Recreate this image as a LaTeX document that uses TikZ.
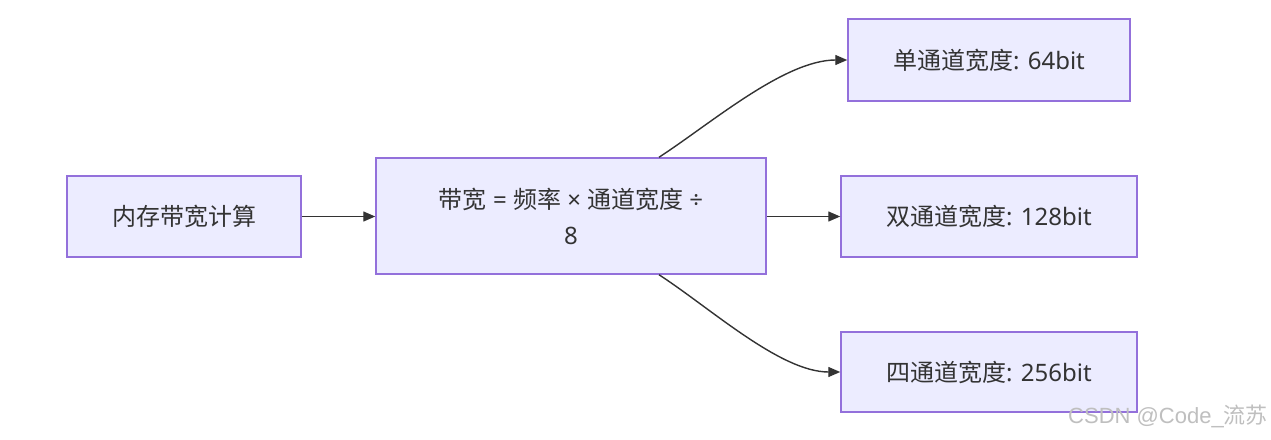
\documentclass[tikz,border=0pt]{standalone}
\usepackage{fontspec}
\setmainfont{Noto Sans CJK SC}
\newfontfamily\lat{Noto Sans}
\newfontfamily\arl{Liberation Sans}
\usetikzlibrary{arrows.meta}
\definecolor{nodefill}{HTML}{ECECFF}
\definecolor{nodeborder}{HTML}{9370DB}
\definecolor{edgecol}{HTML}{333333}
\definecolor{txtcol}{HTML}{333333}
\begin{document}
\begin{tikzpicture}[x=1pt,y=-1pt,
  box/.style={draw=nodeborder,fill=nodefill,line width=1.5pt,text=txtcol,
    font=\fontsize{24}{36}\selectfont,align=center,inner sep=0pt},
  edge/.style={draw=edgecol,line width=1.4pt,-{Triangle[length=12pt,width=10pt]}}]
\useasboundingbox (0,0) rectangle (1271,439);
\fill[white] (0,0) rectangle (1271,439);
\node[box,minimum width=234pt,minimum height=81pt] (A) at (184,216.5) {内存带宽计算};
\node[box,minimum width=390pt,minimum height=116pt] (B) at (571,216) {带宽{\lat{} = }频率{\lat{} × }通道宽度{\lat{} ÷}\\{\lat 8}};
\node[box,minimum width=282pt,minimum height=82pt] (C) at (989,60) {单通道宽度{\lat: 64bit}};
\node[box,minimum width=296pt,minimum height=81pt] (D) at (989,216.5) {双通道宽度{\lat: 128bit}};
\node[box,minimum width=296pt,minimum height=80pt] (E) at (989,372) {四通道宽度{\lat: 256bit}};
\draw[edge] (A.east) -- (A.east -| B.west);
\draw[edge] (B.east |- D.west) -- (D.west);
\draw[edge] ([xshift=88pt]B.north) .. controls +(51,-33) and +(-63,0) .. (C.west);
\draw[edge] ([xshift=88pt]B.south) .. controls +(51,33) and +(-60,0) .. (E.west);
\node[text=gray!50,font=\fontsize{22}{24}\selectfont,anchor=east,inner sep=0pt] (wm) at (1268,416) {{\arl CSDN @Code\_}流苏};
\end{tikzpicture}
\end{document}
